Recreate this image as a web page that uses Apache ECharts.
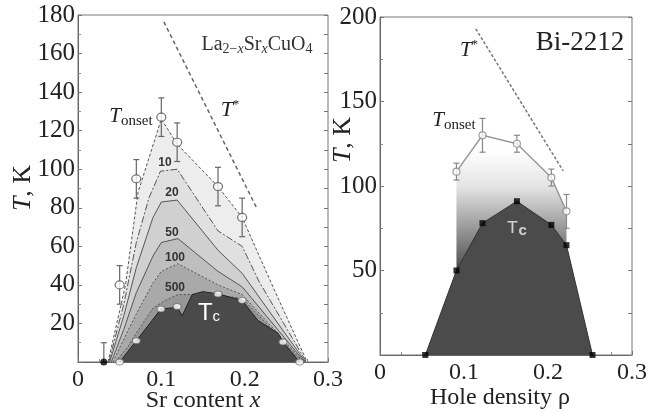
<!DOCTYPE html>
<html>
<head>
<meta charset="utf-8">
<script src="https://cdn.jsdelivr.net/npm/echarts@6/dist/echarts.min.js"></script>
<style>
  html, body { margin: 0; padding: 0; background: #fff; }
  #chart { width: 670px; height: 412px; }
</style>
</head>
<body>
<div id="chart"></div>
<script>
// ---- La2-xSrxCuO4 (left panel) ----
// outer dashed boundary (T_onset) and Nernst contour lines, [x, T]
const onsetEdgeL = [[0.036,0],[0.057,40],[0.072,88],[0.1,126],[0.119,113],[0.168,91],[0.197,75],[0.235,38],[0.275,0]];
const cont10 = [[0.037,0],[0.055,30],[0.07,62],[0.085,85],[0.099,99],[0.119,100],[0.168,68],[0.197,60],[0.217,42],[0.274,0]];
const cont20 = [[0.038,0],[0.055,24],[0.07,49],[0.09,75],[0.1,83],[0.119,84],[0.168,58],[0.197,46],[0.273,0]];
const cont50 = [[0.04,0],[0.055,17],[0.07,36],[0.09,55],[0.1,62],[0.12,64],[0.168,47],[0.197,39],[0.272,0]];
const cont100 = [[0.042,0],[0.055,12],[0.07,25],[0.09,41],[0.1,47],[0.12,51],[0.168,40],[0.197,35],[0.271,0]];
const cont500 = [[0.045,0],[0.06,8],[0.07,15],[0.09,28],[0.105,32],[0.12,35],[0.16,35],[0.197,33],[0.27,0]];
const tcLineL = [[0.05,0],[0.07,11],[0.0996,27.5],[0.112,28],[0.119,28.5],[0.125,24],[0.137,35],[0.15,36.5],[0.168,35.3],[0.197,32],[0.216,21.5],[0.24,15],[0.246,10.4],[0.266,0]];
const tcDotsX = [0.05, 0.07, 0.0996, 0.119, 0.168, 0.197, 0.246, 0.266];
const tcDotsT = [0, 11, 27.5, 28.8, 35.3, 32, 10.4, 0];
const onsetLX = [0.05, 0.07, 0.1, 0.119, 0.168, 0.197];
const onsetLT = [40, 95, 127, 114, 91, 75];
const onsetLLo = [30, 85, 117, 104, 81, 65];
const onsetLHi = [50, 105, 137, 124, 101, 85];
const zeroDot = [[0.031, 0]];
const zeroDotBar = [[0.031, 0, 10]];
const tStarL = [[0.103,176.5],[0.2146,79.7]];

// ---- Bi-2212 (right panel) ----
const tcRX = [0.054, 0.091, 0.122, 0.163, 0.204, 0.222, 0.253];
const tcRT = [0, 50, 78, 91, 77, 65, 0];
const onsetRX = [0.091, 0.122, 0.163, 0.204, 0.222];
const onsetRT = [108.5, 130, 125, 105, 85];
const onsetRErr = [5, 10, 5, 5, 10];
const tStarR = [[0.114,193],[0.218,109]];

const xTicks = [0, 0.1, 0.2, 0.3];

const serif = "Liberation Serif";
const chart = echarts.init(document.getElementById("chart"));

function band(data, color, lineType, idx) {
  return {
    type: "line", xAxisIndex: idx, yAxisIndex: idx,
    data: data, symbol: "none", silent: true,
    lineStyle: { color: "#555", width: 1, type: lineType },
    areaStyle: { color: color, opacity: 1 },
  };
}

function errBars(idx, color, cap) {
  return function (params, api) {
    const x = api.value(0);
    const p1 = api.coord([x, api.value(1)]);
    const p2 = api.coord([x, api.value(2)]);
    const st = { stroke: color, lineWidth: 1.2 };
    return {
      type: "group",
      children: [
        { type: "line", shape: { x1: p1[0], y1: p1[1], x2: p2[0], y2: p2[1] }, style: st },
        { type: "line", shape: { x1: p1[0] - cap, y1: p1[1], x2: p1[0] + cap, y2: p1[1] }, style: st },
        { type: "line", shape: { x1: p2[0] - cap, y1: p2[1], x2: p2[0] + cap, y2: p2[1] }, style: st },
      ],
    };
  };
}

function xAxisCfg(idx) {
  return {
    gridIndex: idx, type: "value", min: 0, max: 0.3, interval: 0.1,
    axisLine: { show: true, onZero: false, lineStyle: { color: "#666" } },
    axisTick: { show: true, inside: true, length: 4, lineStyle: { color: "#777" } },
    minorTick: { show: true, splitNumber: 4, length: 3, lineStyle: { color: "#888" } },
    splitLine: { show: false },
    axisLabel: {
      color: "#222", fontFamily: serif, fontSize: 24, margin: 6,
      formatter: (v) => (xTicks.indexOf(Math.round(v * 10) / 10) >= 0 ? String(Math.round(v * 10) / 10) : ""),
    },
  };
}

function contourLabel(text, x, y) {
  return {
    type: "text", x: x, y: y, silent: true, z: 100,
    style: { text: text, align: "center", verticalAlign: "middle", fontFamily: "Liberation Sans", fontWeight: "bold", fontSize: 12, fill: "#333" },
  };
}

const option = {
  backgroundColor: "#fff",
  animation: false,
  grid: [
    { left: 78, top: 15, width: 250, height: 347, show: true, borderColor: "#777", borderWidth: 1, backgroundColor: "#fff" },
    { left: 380, top: 17, width: 252, height: 338, show: true, borderColor: "#777", borderWidth: 1, backgroundColor: "#fff" },
  ],
  xAxis: [xAxisCfg(0), xAxisCfg(1)],
  yAxis: [
    {
      gridIndex: 0, type: "value", min: 0, max: 180, interval: 20,
      axisLine: { show: true, lineStyle: { color: "#666" } },
      axisTick: { show: true, inside: true, length: 4, lineStyle: { color: "#777" } },
      minorTick: { show: true, splitNumber: 2, length: 3, lineStyle: { color: "#888" } },
      splitLine: { show: false },
      axisLabel: { color: "#222", fontFamily: serif, fontSize: 25, margin: 3, formatter: (v) => (v === 0 ? "" : v) },
    },
    {
      gridIndex: 1, type: "value", min: 0, max: 200, interval: 50,
      axisLine: { show: true, lineStyle: { color: "#666" } },
      axisTick: { show: true, inside: true, length: 4, lineStyle: { color: "#777" } },
      minorTick: { show: true, splitNumber: 2, length: 3, lineStyle: { color: "#888" } },
      splitLine: { show: false },
      axisLabel: { color: "#222", fontFamily: serif, fontSize: 25, margin: 3, formatter: (v) => (v === 0 ? "" : v) },
    },
    {
      gridIndex: 0, type: "value", min: 0, max: 180, interval: 10, position: "right",
      axisLine: { show: false }, axisLabel: { show: false }, splitLine: { show: false },
      axisTick: { show: true, inside: true, length: 4, lineStyle: { color: "#777" } },
    },
    {
      gridIndex: 1, type: "value", min: 0, max: 200, interval: 25, position: "right",
      axisLine: { show: false }, axisLabel: { show: false }, splitLine: { show: false },
      axisTick: { show: true, inside: true, length: 4, lineStyle: { color: "#777" } },
    },
  ],
  series: [
    // left panel bands, outer first
    band(onsetEdgeL, "#ededed", [3, 2], 0),
    band(cont10, "#e0e0e0", [7, 2, 2, 2], 0),
    band(cont20, "#d0d0d0", "solid", 0),
    band(cont50, "#bebebe", "solid", 0),
    band(cont100, "#a9a9a9", [2, 2], 0),
    band(cont500, "#979797", [2, 2], 0),
    {
      type: "line", xAxisIndex: 0, yAxisIndex: 0, data: tcLineL, symbol: "none",
      lineStyle: { color: "#222", width: 1 },
      areaStyle: { color: "#4a4a4a", opacity: 1 },
    },
    {
      type: "line", xAxisIndex: 0, yAxisIndex: 0, data: tStarL, symbol: "none",
      lineStyle: { color: "#666", width: 1.5, type: [4, 3] },
    },
    {
      type: "custom", xAxisIndex: 0, yAxisIndex: 0,
      data: onsetLX.map((x, i) => [x, onsetLLo[i], onsetLHi[i]]).concat(zeroDotBar),
      renderItem: errBars(0, "#666", 3), z: 5,
    },
    {
      type: "scatter", xAxisIndex: 0, yAxisIndex: 0,
      data: onsetLX.map((x, i) => [x, onsetLT[i]]),
      symbol: "circle", symbolSize: [9, 8], z: 6,
      itemStyle: { color: "#fff", borderColor: "#555", borderWidth: 1.2 },
    },
    {
      type: "scatter", xAxisIndex: 0, yAxisIndex: 0,
      data: tcDotsX.map((x, i) => [x, tcDotsT[i]]),
      symbol: "circle", symbolSize: [8, 6], z: 6,
      itemStyle: { color: "#fff", borderColor: "#666", borderWidth: 1 },
    },
    {
      type: "scatter", xAxisIndex: 0, yAxisIndex: 0, data: zeroDot,
      symbol: "circle", symbolSize: 7, z: 6, itemStyle: { color: "#000" },
    },

    // right panel
    {
      type: "line", xAxisIndex: 1, yAxisIndex: 1,
      data: onsetRX.map((x, i) => [x, onsetRT[i]]), symbol: "none",
      lineStyle: { color: "#999", width: 1.5 },
      areaStyle: {
        opacity: 1,
        color: new echarts.graphic.LinearGradient(0, 150, 0, 272, [
          { offset: 0, color: "#ffffff" },
          { offset: 0.3, color: "#e4e4e4" },
          { offset: 1, color: "#4a4a4a" },
        ], true),
      },
    },
    {
      type: "line", xAxisIndex: 1, yAxisIndex: 1,
      data: tcRX.map((x, i) => [x, tcRT[i]]), symbol: "none",
      lineStyle: { color: "#333", width: 1 },
      areaStyle: { color: "#4b4b4b", opacity: 1 },
    },
    {
      type: "line", xAxisIndex: 1, yAxisIndex: 1, data: tStarR, symbol: "none",
      lineStyle: { color: "#777", width: 1.5, type: [3, 2] },
    },
    {
      type: "custom", xAxisIndex: 1, yAxisIndex: 1,
      data: onsetRX.map((x, i) => [x, onsetRT[i] - onsetRErr[i], onsetRT[i] + onsetRErr[i]]),
      renderItem: errBars(1, "#888", 3), z: 5,
    },
    {
      type: "scatter", xAxisIndex: 1, yAxisIndex: 1,
      data: onsetRX.map((x, i) => [x, onsetRT[i]]),
      symbol: "circle", symbolSize: 7, z: 6,
      itemStyle: { color: "#fff", borderColor: "#888", borderWidth: 1.2 },
    },
    {
      type: "scatter", xAxisIndex: 1, yAxisIndex: 1,
      data: tcRX.map((x, i) => [x, tcRT[i]]),
      symbol: "rect", symbolSize: 6, z: 6, itemStyle: { color: "#000" },
    },
  ],
  graphic: [
    // axis titles
    {
      type: "text", x: 23, y: 188, rotation: Math.PI / 2, silent: true, z: 100,
      style: {
        text: "{i|T}, K", align: "center", verticalAlign: "middle",
        fontFamily: serif, fontSize: 26, fill: "#222",
        rich: { i: { fontStyle: "italic", fontFamily: serif, fontSize: 26, fill: "#222" } },
      },
    },
    {
      type: "text", x: 343, y: 140, rotation: Math.PI / 2, silent: true, z: 100,
      style: {
        text: "{i|T}, K", align: "center", verticalAlign: "middle",
        fontFamily: serif, fontSize: 26, fill: "#222",
        rich: { i: { fontStyle: "italic", fontFamily: serif, fontSize: 26, fill: "#222" } },
      },
    },
    {
      type: "text", x: 203, y: 401, silent: true, z: 100,
      style: {
        text: "Sr content {i|x}", align: "center", verticalAlign: "middle",
        fontFamily: serif, fontSize: 24, fill: "#222",
        rich: { i: { fontStyle: "italic", fontFamily: serif, fontSize: 24, fill: "#222" } },
      },
    },
    {
      type: "text", x: 500, y: 398, silent: true, z: 100,
      style: { text: "Hole density ρ", align: "center", verticalAlign: "middle", fontFamily: serif, fontSize: 24, fill: "#222" },
    },
    // panel titles
    {
      type: "text", x: 257, y: 45, silent: true, z: 100,
      style: {
        text: "La{s|2−}{si|x}Sr{si|x}CuO{s|4}", align: "center", verticalAlign: "middle",
        fontFamily: serif, fontSize: 20, fill: "#333",
        rich: {
          s: { fontFamily: serif, fontSize: 14, fill: "#333", verticalAlign: "bottom", padding: [8, 0, 0, 0] },
          si: { fontFamily: serif, fontSize: 14, fontStyle: "italic", fill: "#333", verticalAlign: "bottom", padding: [8, 0, 0, 0] },
        },
      },
    },
    {
      type: "text", x: 580, y: 43, silent: true, z: 100,
      style: { text: "Bi-2212", align: "center", verticalAlign: "middle", fontFamily: serif, fontSize: 27, fill: "#222" },
    },
    // curve labels
    {
      type: "text", x: 230, y: 110, silent: true, z: 100,
      style: {
        text: "{i|T}{u|*}", align: "center", verticalAlign: "middle", fill: "#222",
        rich: {
          i: { fontStyle: "italic", fontFamily: serif, fontSize: 22, fill: "#222" },
          u: { fontFamily: serif, fontSize: 13, fill: "#222", padding: [0, 0, 10, 0] },
        },
      },
    },
    {
      type: "text", x: 131, y: 116, silent: true, z: 100,
      style: {
        text: "{i|T}{s|onset}", align: "center", verticalAlign: "middle", fill: "#222",
        rich: {
          i: { fontStyle: "italic", fontFamily: serif, fontSize: 21, fill: "#222" },
          s: { fontFamily: serif, fontSize: 15, fill: "#222", padding: [10, 0, 0, 0] },
        },
      },
    },
    {
      type: "text", x: 469, y: 50, silent: true, z: 100,
      style: {
        text: "{i|T}{u|*}", align: "center", verticalAlign: "middle", fill: "#222",
        rich: {
          i: { fontStyle: "italic", fontFamily: serif, fontSize: 21, fill: "#222" },
          u: { fontFamily: serif, fontSize: 13, fill: "#222", padding: [0, 0, 10, 0] },
        },
      },
    },
    {
      type: "text", x: 454, y: 120, silent: true, z: 100,
      style: {
        text: "{i|T}{s|onset}", align: "center", verticalAlign: "middle", fill: "#222",
        rich: {
          i: { fontStyle: "italic", fontFamily: serif, fontSize: 21, fill: "#222" },
          s: { fontFamily: serif, fontSize: 15, fill: "#222", padding: [10, 0, 0, 0] },
        },
      },
    },
    // contour labels
    contourLabel("10", 165, 163),
    contourLabel("20", 172, 193),
    contourLabel("50", 172, 233),
    contourLabel("100", 175, 258),
    contourLabel("500", 175, 288),
    {
      type: "text", x: 209, y: 313, silent: true, z: 100,
      style: {
        text: "T{s|c}", align: "center", verticalAlign: "middle", fontFamily: "Liberation Sans", fontSize: 24, fill: "#fff",
        rich: { s: { fontFamily: "Liberation Sans", fontSize: 15, fill: "#fff", padding: [8, 0, 0, 0] } },
      },
    },
    {
      type: "text", x: 517, y: 228, silent: true, z: 100,
      style: {
        text: "T{s|c}", align: "center", verticalAlign: "middle", fontFamily: "Liberation Mono", fontSize: 19, fill: "#d0d0d0",
        rich: { s: { fontFamily: "Liberation Mono", fontSize: 15, fontWeight: "bold", fill: "#d0d0d0", padding: [6, 0, 0, 0] } },
      },
    },
  ],
};

chart.setOption(option);
</script>
</body>
</html>
